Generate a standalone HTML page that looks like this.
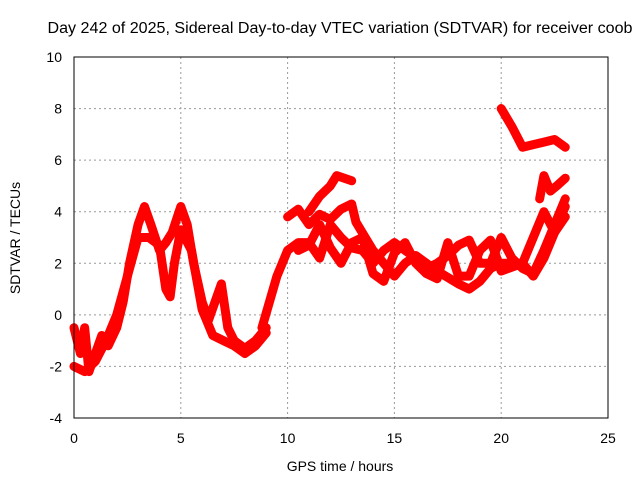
<!DOCTYPE html>
<html><head><meta charset="utf-8"><style>
body{margin:0;background:#fff}
svg text{font-family:"Liberation Sans",sans-serif;font-size:14px;fill:#000}
</style></head><body>
<svg id="chart" width="640" height="480" xmlns="http://www.w3.org/2000/svg">
<text x="340" y="33" text-anchor="middle" style="font-size:15.5px" textLength="585" lengthAdjust="spacingAndGlyphs">Day 242 of 2025, Sidereal Day-to-day VTEC variation (SDTVAR) for receiver coob</text>
<g id="grid"></g>
<g id="series"></g>
<rect x="74" y="57" width="534" height="361" fill="none" stroke="#000" stroke-width="1"/>
<g id="ticks"></g>
<text x="340" y="471" text-anchor="middle">GPS time / hours</text>
<text transform="translate(20,238) rotate(-90)" text-anchor="middle">SDTVAR / TECUs</text>
</svg>
<script>
const xTicks=[0,5,10,15,20,25];
const yTicks=[-4,-2,0,2,4,6,8,10];
const traceA=[[0,-0.5],[0.3,-1.5],[0.5,-0.5],[0.7,-2.2],[1,-1.5],[1.3,-0.8],[1.6,-1.2],[2,-0.5],[2.3,0.5],[2.6,2],[3,3.5],[3.3,4.2],[3.6,3.5],[4,2.5],[4.3,2.8],[4.6,3.2],[5,4.2],[5.3,3.5],[5.6,2],[6,0.5],[6.3,-0.2],[6.6,0.5],[6.9,1.2],[7.2,-0.5],[7.5,-1],[8,-1.3],[8.5,-1],[9,-0.5]];
const traceB=[[0,-2],[0.5,-2.2],[1,-1.8],[1.5,-1],[2,0],[2.5,1.5],[3,3],[3.5,3],[4,2.7],[4.3,1],[4.5,0.7],[4.7,2],[5,3.3],[5.5,2.5],[6,0.2],[6.5,-0.8],[7,-1],[7.5,-1.2],[8,-1.5],[8.5,-1.2],[9,-0.7]];
const traceC=[[8.8,-0.5],[9.5,1.5],[10,2.5],[10.5,2.8],[11,2.8],[11.5,2.2],[12,3.5],[12.5,3.0],[13,2.6],[13.5,2.5],[14,2],[14.5,2.5],[15,2.8],[15.5,2.5],[16,2.2],[16.5,1.8],[17,2],[17.5,2.3],[18,2.7],[18.5,2.9],[19,2],[19.5,2],[20,3],[20.5,2.2],[21,1.8],[21.5,1.6],[22,2.5],[22.5,3.5],[23,4.5]];
const traceD=[[10,3.8],[10.5,4.1],[11,3.5],[11.5,3.9],[12,3.7],[12.5,4.1],[13,4.3],[13.2,3.6],[14,2.5],[15,1.5],[15.5,2],[16,2.3],[17,1.7],[18,1.2],[18.5,1],[19,1.3],[19.5,1.8],[20,2],[21,2],[21.5,1.5],[22,2.2],[22.5,3.2],[23,3.8]];
const traceE=[[10.5,2.5],[11,2.7],[11.5,3.5],[12,2.6],[12.5,2],[13,2.8],[13.5,3],[14,1.6],[14.5,1.3],[15,2.4],[15.5,2.8],[16,2],[16.5,1.6],[17,1.4],[17.5,2.8],[18,1.5],[18.5,1.5],[19,2.5],[19.5,2.9],[20,1.7],[21,2],[21.5,3],[22,4],[22.5,3.2],[23,4.2]];
const traceF=[[11,4],[11.5,4.6],[12,5],[12.3,5.4],[13,5.2]];
const traceG=[[20,8],[20.5,7.3],[21,6.5],[21.5,6.6],[22,6.7],[22.5,6.8],[23,6.5]];
const traceH=[[21.8,4.5],[22,5.4],[22.3,4.8],[22.6,5],[23,5.3]];
const traces=[traceA,traceB,traceC,traceD,traceE,traceF,traceG,traceH];
const X=v=>74+v*(534/25), Y=v=>418-(v+4)*(361/14);
const NS="http://www.w3.org/2000/svg";
const grid=document.getElementById('grid'),ticks=document.getElementById('ticks'),ser=document.getElementById('series');
function mk(t,a,p){const e=document.createElementNS(NS,t);for(const k in a)e.setAttribute(k,a[k]);p.appendChild(e);return e;}
xTicks.forEach(t=>{const x=X(t);
 if(t>0&&t<25){const g=mk('line',{x1:x,x2:x,y1:57,y2:418,stroke:'#999','stroke-dasharray':'2,3'},grid);
 
 }
 const l=mk('text',{x:x,y:443,'text-anchor':'middle'},ticks);l.textContent=t;
 
 });
yTicks.forEach(t=>{const y=Y(t);
 if(t>-4&&t<10){const g=mk('line',{x1:74,x2:608,y1:y,y2:y,stroke:'#999','stroke-dasharray':'2,3'},grid);
 
 }
 const l=mk('text',{x:62,y:y+5,'text-anchor':'end'},ticks);l.textContent=t;
 
 });
traces.forEach((tr,i)=>{const p=mk('polyline',{points:tr.map(d=>X(d[0])+','+Y(d[1])).join(' '),fill:'none',stroke:'#f00','stroke-width':9,'stroke-linejoin':'round','stroke-linecap':'round'},ser);
 
 });
</script>
</body></html>
